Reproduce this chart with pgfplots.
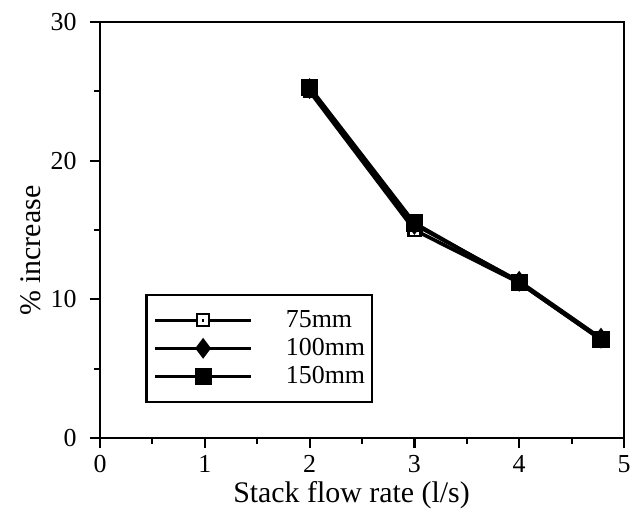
\documentclass[border=0pt]{standalone}
\usepackage{pgfplots}
\pgfplotsset{compat=1.18}
\usepackage{fontspec}
\setmainfont{Liberation Serif}
\pgfdeclareplotmark{sqdot}{%
 \pgfpathrectangle{\pgfqpoint{-\pgfplotmarksize}{-\pgfplotmarksize}}{\pgfqpoint{2\pgfplotmarksize}{2\pgfplotmarksize}}%
 \pgfsetfillcolor{white}\pgfusepathqfillstroke
 \pgfpathrectangle{\pgfqpoint{-1.3bp}{-1.3bp}}{\pgfqpoint{2.6bp}{2.6bp}}%
 \pgfsetfillcolor{black}\pgfusepathqfill}
\begin{document}
\begin{tikzpicture}
\begin{axis}[
  scale only axis, width=524bp, height=416bp,
  xmin=0, xmax=5, ymin=0, ymax=30,
  xtick={0,1,2,3,4,5}, ytick={0,10,20,30},
  minor x tick num=1, minor y tick num=1,
  xtick pos=bottom, ytick pos=left,
  tick align=outside,
  major tick length=10bp, minor tick length=6bp,
  every tick/.style={black, line width=2.2bp},
  axis line style={line width=2.8bp},
  /pgf/number format/assume math mode=true,
  tick label style={font=\fontsize{26}{28}\selectfont},
  xticklabel style={yshift=-4bp},
  yticklabel style={xshift=-10bp},
  xlabel={Stack flow rate (l/s)},
  ylabel={\% increase},
  label style={font=\fontsize{30}{32}\selectfont},
  xlabel style={at={(axis description cs:0.48,-0.138)}, anchor=center},
  ylabel style={at={(axis description cs:-0.132,0.45)}, anchor=center, rotate=0},
  legend style={at={(axis description cs:0.086,0.084)}, anchor=south west,
    draw=black, line width=2.5bp, font=\fontsize{26}{28}\selectfont,
    inner xsep=7bp, inner ysep=14bp, row sep=5bp, column sep=33bp,
    nodes={inner sep=0pt, text height=19bp, text depth=4bp}},
  legend cell align=left,
  legend image code/.code={\draw[mark repeat=2,mark phase=2,#1] plot coordinates {(0bp,0bp) (48bp,0bp) (96bp,0bp)};},
  clip=false,
]
\addplot[black, line width=3.6bp, mark=sqdot, mark size=6bp, mark options={line width=2.2bp, solid}]
  coordinates {(2,25.0) (3,15.0) (4,11.2) (4.78,7.1)};
\addlegendentry{75mm}
\addplot[black, line width=3.6bp, mark=diamond*, mark size=7.5bp, mark options={solid}]
  coordinates {(2,25.2) (3,15.4) (4,11.3) (4.78,7.2)};
\addlegendentry{100mm}
\addplot[black, line width=3.6bp, mark=square*, mark size=6.8bp, mark options={solid}]
  coordinates {(2,25.3) (3,15.5) (4,11.2) (4.78,7.1)};
\addlegendentry{150mm}
\end{axis}
\pgfresetboundingbox
\path[use as bounding box] (-100bp,-78bp) rectangle (537bp,438bp);
\end{tikzpicture}
\end{document}
